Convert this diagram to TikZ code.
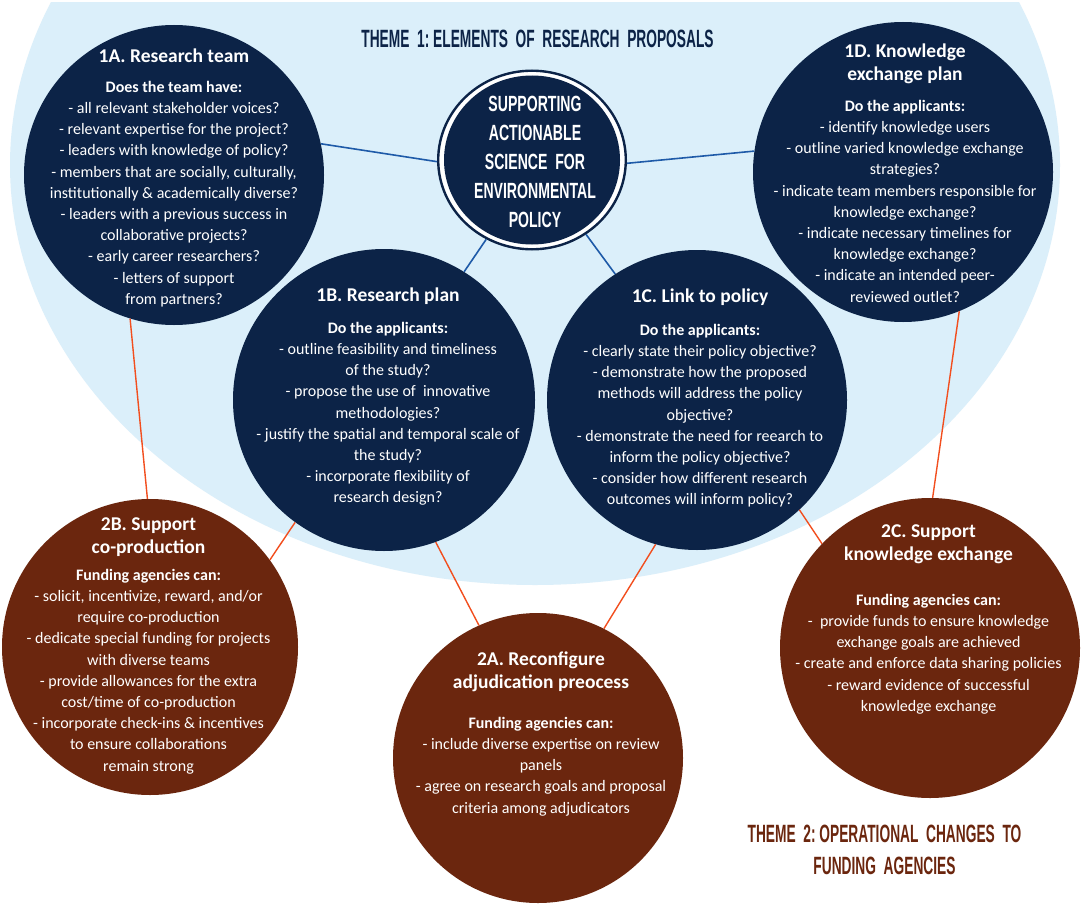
\documentclass[tikz,border=0pt]{standalone}
\usepackage{fontspec}
\setmainfont{Carlito}
\newfontfamily\condf[FakeStretch=0.55]{Liberation Sans}
\newfontfamily\condc[FakeStretch=0.64]{Liberation Sans}
\usetikzlibrary{shapes.geometric}
\definecolor{navy}{HTML}{0C2347}
\definecolor{rust}{HTML}{6B260E}
\definecolor{skyfill}{HTML}{DBEFFA}
\definecolor{linkblue}{HTML}{1E5AA8}
\definecolor{linkorange}{HTML}{F24E1E}
\newcommand\cttl[1]{{\bfseries\fontsize{19.5}{23}\selectfont #1}}
\newcommand\hdr[1]{{\bfseries #1}}
\tikzset{
  navycirc/.style={circle, fill=navy, inner sep=0pt},
  rustcirc/.style={circle, fill=rust, inner sep=0pt},
  txt/.style={text=white, align=center, inner sep=0pt, anchor=north, font=\fontsize{16}{21.2}\selectfont},
  bluelink/.style={draw=linkblue, line width=1.6pt},
  orangelink/.style={draw=linkorange, line width=1.4pt},
  themetxt/.style={align=center, inner sep=0pt, anchor=north, font=\condf\bfseries\fontsize{25}{32}\selectfont}
}
\begin{document}
\begin{tikzpicture}[x=1pt,y=-1pt]
\fill[white] (0,0) rectangle (1084,907);
\useasboundingbox (0,0) rectangle (1084,907);
\begin{scope}
\clip (0,2.5) rectangle (1084,907);
\fill[skyfill] (535,165) ellipse [x radius=525pt, y radius=420pt];
\end{scope}

% theme titles
\node[themetxt, text=navy] (th1) at (537.5,29) {\rule{0pt}{18pt}THEME~~1:~ELEMENTS~~OF~~RESEARCH~~PROPOSALS};
\node[themetxt, text=rust] (th2) at (884.5,824) {\rule{0pt}{18pt}THEME~~2:~OPERATIONAL~~CHANGES~~TO\\FUNDING~~AGENCIES};

% central circle
\node[ellipse, draw=navy, line width=2.4pt, fill=white, minimum width=187.6pt, minimum height=178.6pt, inner sep=0pt] (ctr) at (532,160) {};
\fill[navy] (ctr.center) ellipse [x radius=88pt, y radius=84.5pt];
\node[text=white, align=center, inner sep=0pt, anchor=north, font=\condc\bfseries\fontsize{22}{29}\selectfont] (ctrtxt) at (535,93.5)
  {\rule{0pt}{18pt}SUPPORTING\\ACTIONABLE\\SCIENCE~~FOR\\ENVIRONMENTAL\\POLICY};

% theme 1 circles
\node[navycirc, minimum size=300pt] (r1A) at (174,175) {};
\node[navycirc, minimum size=300pt] (r1D) at (903,172) {};
\node[navycirc, minimum size=302pt] (r1B) at (384,400) {};
\node[navycirc, minimum size=300pt] (r1C) at (697,400) {};
% theme 2 circles
\node[rustcirc, minimum size=296pt] (f2B) at (150,647) {};
\node[rustcirc, minimum size=290pt] (f2A) at (538,758) {};
\node[rustcirc, minimum size=300pt] (f2C) at (930,648) {};

% connectors
\draw[bluelink] (r1A.12) -- (ctr.181);
\draw[bluelink] (ctr.358) -- (r1D.172);
\draw[bluelink] (ctr.240) -- (r1B.58);
\draw[bluelink] (ctr.306) -- (r1C.123);
\draw[orangelink] (r1A.253) -- (f2B.91);
\draw[orangelink] (r1B.234) -- (f2B.36);
\draw[orangelink] (r1B.290) -- (f2A.114);
\draw[orangelink] (r1C.254) -- (f2A.63);
\draw[orangelink] (r1C.313) -- (f2C.136);
\draw[orangelink] (r1D.292) -- (f2C.89);

% texts
\node[txt] (t1A) at (174,46) {\rule{0pt}{16pt}\cttl{1A. Research team}\\[8.8pt]
\hdr{Does the team have:}\\
- all relevant stakeholder voices?\\
- relevant expertise for the project?\\
- leaders with knowledge of policy?\\
- members that are socially, culturally,\\
institutionally \& academically diverse?\\
- leaders with a previous success in\\
collaborative projects?\\
- early career researchers?\\
- letters of support\\
from partners?};

\node[txt] (t1D) at (905,41) {\rule{0pt}{16pt}\cttl{1D. Knowledge}\\[1.8pt]
\cttl{exchange plan}\\[9.8pt]
\hdr{Do the applicants:}\\
- identify knowledge users\\
- outline varied knowledge exchange\\
strategies?\\
- indicate team members responsible for\\
knowledge exchange?\\
- indicate necessary timelines for\\
knowledge exchange?\\
- indicate an intended peer-\\
reviewed outlet?};

\node[txt] (t1B) at (388,285) {\rule{0pt}{16pt}\cttl{1B. Research plan}\\[10.8pt]
\hdr{Do the applicants:}\\
- outline feasibility and timeliness\\
of the study?\\
- propose the use of~ innovative\\
methodologies?\\
- justify the spatial and temporal scale of\\
the study?\\
- incorporate flexibility of\\
research design?};

\node[txt] (t1C) at (700,286) {\rule{0pt}{16pt}\cttl{1C. Link to policy}\\[11.8pt]
\hdr{Do the applicants:}\\
- clearly state their policy objective?\\
- demonstrate how the proposed\\
methods will address the policy\\
objective?\\
- demonstrate the need for reearch to\\
inform the policy objective?\\
- consider how different research\\
outcomes will inform policy?};

\node[txt] (t2B) at (148.5,514) {\rule{0pt}{16pt}\cttl{2B. Support}\\[1.8pt]
\cttl{co-production}\\[5.8pt]
\hdr{Funding agencies can:}\\
- solicit, incentivize, reward, and/or\\
require co-production\\
- dedicate special funding for projects\\
with diverse teams\\
- provide allowances for the extra\\
cost/time of co-production\\
- incorporate check-ins \& incentives\\
to ensure collaborations\\
remain strong};

\node[txt] (t2A) at (541,649) {\rule{0pt}{16pt}\cttl{2A. Reconfigure}\\[1.8pt]
\cttl{adjudication preocess}\\[18.8pt]
\hdr{Funding agencies can:}\\
- include diverse expertise on review\\
panels\\
- agree on research goals and proposal\\
criteria among adjudicators};

\node[txt] (t2C) at (928.5,521) {\rule{0pt}{16pt}\cttl{2C. Support}\\[1.8pt]
\cttl{knowledge exchange}\\[23.8pt]
\hdr{Funding agencies can:}\\
-~ provide funds to ensure knowledge\\
exchange goals are achieved\\
- create and enforce data sharing policies\\
- reward evidence of successful\\
knowledge exchange};
\end{tikzpicture}
\end{document}
